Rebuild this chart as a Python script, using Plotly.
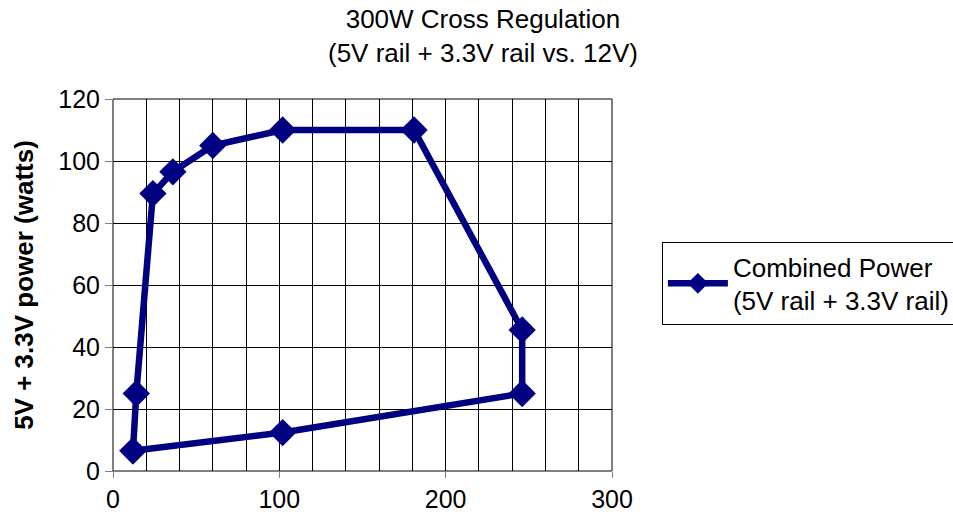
import plotly.graph_objects as go

x_12v = [12, 14, 24, 36, 60, 102, 181, 246, 246, 102, 12]
y_power = [6.5, 25, 89.5, 96.5, 105, 110, 110, 45.5, 25, 12.4, 6.5]
series_name = "Combined Power<br>(5V rail + 3.3V rail)"
title_text = "300W Cross Regulation<br>(5V rail + 3.3V rail vs. 12V)"
y_title = "5V + 3.3V power (watts)"
x_ticks = [0, 100, 200, 300]
y_ticks = [0, 20, 40, 60, 80, 100, 120]

fig = go.Figure()
fig.add_trace(go.Scatter(
    x=x_12v, y=y_power, mode="lines+markers", name=series_name,
    line=dict(color="#000080", width=6.5),
    marker=dict(symbol="diamond", size=21, color="#000080"),
    showlegend=True,
))

font_family = "Liberation Sans, Arial, sans-serif"
fig.update_layout(
    width=953, height=521,
    margin=dict(l=113, r=341, t=99, b=50, autoexpand=False),
    paper_bgcolor="white", plot_bgcolor="white",
    font=dict(family=font_family, size=25, color="black"),
    showlegend=True,
    legend=dict(x=1.1, xanchor="left", y=0.504, yanchor="middle",
                bordercolor="black", borderwidth=1, bgcolor="white",
                font=dict(family=font_family, size=26, color="black"),
                itemwidth=60, tracegroupgap=0),
    xaxis=dict(range=[0, 300], tickvals=x_ticks, showgrid=False, automargin=False,
               ticks="outside", ticklen=6, tickcolor="#808080",
               showline=True, linecolor="#808080", linewidth=1, mirror=False,
               zeroline=False,
               minor=dict(dtick=20, tick0=0, showgrid=True, gridcolor="black", gridwidth=1),
               tickfont=dict(size=25)),
    yaxis=dict(range=[0, 120], tickvals=y_ticks, showgrid=True, gridcolor="black", gridwidth=1,
               automargin=False,
               ticks="outside", ticklen=7, tickcolor="#808080",
               showline=True, linecolor="#808080", linewidth=1,
               zeroline=False,
               title=dict(text="<b>" + y_title + "</b>", font=dict(size=26), standoff=17),
               tickfont=dict(size=25)),
)
fig.add_annotation(text=title_text, xref="paper", yref="paper", x=0.741, y=1.169,
                   xanchor="center", yanchor="middle", showarrow=False,
                   font=dict(family=font_family, size=26, color="black"))
fig.add_shape(type="rect", xref="paper", yref="paper", x0=0, x1=1, y0=0, y1=1,
              line=dict(color="black", width=1), layer="below")
fig.write_html("out.html", config={"displayModeBar": False},
               post_script="document.body.style.margin='0';document.body.style.overflow='hidden';")
